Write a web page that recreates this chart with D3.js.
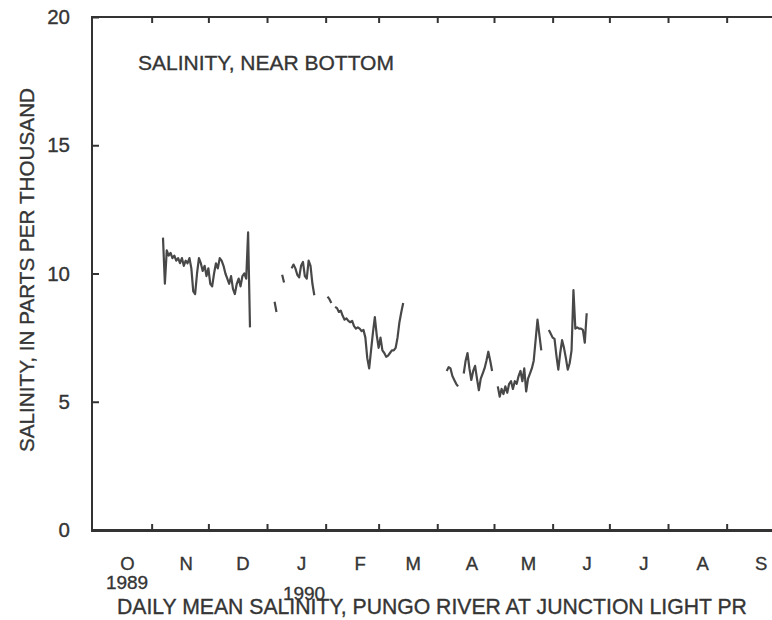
<!DOCTYPE html>
<html><head><meta charset="utf-8">
<script src="https://cdn.jsdelivr.net/npm/d3@7"></script>
<style>
body{margin:0;background:#fff}
svg{display:block}
text{font-family:"Liberation Sans",Arial,Helvetica,sans-serif;fill:#353535;stroke:#353535;stroke-width:0.35px}
</style>
</head><body>
<svg id="chart" width="772" height="620"></svg>
<script>
// ---- data ----
const monthLabels = ["O","N","D","J","F","M","A","M","J","J","A","S"];
const yTickValues = [0, 5, 10, 15, 20];
const yearLabels = ["1989", "1990"];
const yearMonthIndex = [0, 3];

// daily mean salinity (ppt), consecutive days from each start date; null = missing
const seg1Start = "1989-11-07";
const seg1Values = [11.4, 9.6, 10.9, 10.7, 10.8, 10.6, 10.7, 10.5, 10.6, 10.4, 10.6, 10.3, 10.5, 10.4, 10.6, 10.2,
  9.3, 9.2, 10.0, 10.6, 10.4, 10.1, 10.3, 9.9, 10.2, 9.6, 9.5, 10.0, 10.4, 10.2, 10.6, 10.5, 10.3, 10.0, 9.8, 9.6,
  9.9, 9.4, 9.2, 9.6, 9.8, 9.5, 9.9, 10.0, 9.8, 11.6, 7.9];

const seg2Start = "1990-01-05";
const seg2Values = [8.9, 8.5, null, null, 9.95, 9.65, null, null, null, 10.2, 10.35, 10.2, 9.95, 9.85, 10.3,
  10.45, 9.9, 9.8, 10.5, 10.3, 9.6, 9.15];

const seg3Start = "1990-02-02";
const seg3Values = [9.1, 9.0, 8.85, null, 8.7, 8.65, 8.5, 8.55, 8.35, 8.2, 8.25, 8.15, 8.1, 8.15, 7.95, 7.85,
  7.9, 7.85, 7.75, 7.8, 7.5, 6.7, 6.3, 7.0, 7.7, 8.3, 7.6, 7.1, 7.5, 7.0, 6.9, 6.75, 6.8, 6.9, 7.0, 7.0, 7.1,
  7.5, 8.1, 8.5, 8.85];

const seg4Start = "1990-04-06";
const seg4Values = [6.2, 6.35, 6.3, 6.0, 5.85, 5.7, 5.6, null, null, 6.1, 6.6, 6.9, 6.3, 5.85, 6.2, 6.4, 5.9,
  5.45, 5.9, 6.1, 6.3, 6.6, 6.95, 6.6, 6.2, null, null, 5.6, 5.2, 5.5, 5.3, 5.6, 5.35, 5.7, 5.8, 5.5, 5.8,
  5.7, 6.0, 6.2, 5.8, 6.3, 5.4, 5.9, 6.1, 6.3, 6.6, 7.4, 8.2, 7.6, 7.0, null, null, null, 7.8, 7.65, 7.5,
  7.45, 6.8, 6.25, 6.9, 7.4, 7.1, 6.7, 6.25, 6.5, 7.0, 9.35, 7.85, 7.9, 7.85, 7.85, 7.8, 7.3, 8.45];

// ---- build ----
const parse = d3.timeParse("%Y-%m-%d");
function series(start, vals) {
  const s = parse(start);
  return vals.map((v, i) => ({date: d3.timeDay.offset(s, i), v: v}));
}
const segments = [
  series(seg1Start, seg1Values),
  series(seg2Start, seg2Values),
  series(seg3Start, seg3Values),
  series(seg4Start, seg4Values)
];

const svg = d3.select("#chart");
const x0 = parse("1989-10-01"), x1 = parse("1990-10-01");
const x = d3.scaleTime().domain([x0, x1]).range([93, 783.4]);
const y = d3.scaleLinear().domain([0, 20]).range([530, 17]);

const monthStarts = d3.timeMonth.range(parse("1989-11-01"), parse("1990-09-02"));
const monthMids = d3.timeMonth.range(x0, x1).map(d => d3.timeDay.offset(d, 18));

// frame
const left = 92, right = 800;
svg.append("line").attr("x1", left).attr("x2", right).attr("y1", y(20)).attr("y2", y(20))
  .attr("stroke", "#333").attr("stroke-width", 2);
svg.append("line").attr("x1", left).attr("x2", right).attr("y1", y(0) + 0.5).attr("y2", y(0) + 0.5)
  .attr("stroke", "#333").attr("stroke-width", 3);
svg.append("line").attr("x1", left).attr("x2", left).attr("y1", y(20) - 1).attr("y2", y(0) + 2)
  .attr("stroke", "#333").attr("stroke-width", 2);

// month boundary ticks (top & bottom, pointing inward)
const topAxis = svg.append("g").attr("transform", `translate(0,${y(20)})`)
  .call(d3.axisTop(x).tickValues(monthStarts).tickSize(-6).tickFormat(""));
const botAxis = svg.append("g").attr("transform", `translate(0,${y(0)})`)
  .call(d3.axisBottom(x).tickValues(monthStarts).tickSize(-6).tickFormat(""));
[topAxis, botAxis].forEach(g => {
  g.select(".domain").remove();
  g.selectAll("line").attr("stroke", "#333").attr("stroke-width", 2);
});

// month letters
const monthAxis = svg.append("g").attr("transform", `translate(0,${y(0)})`)
  .call(d3.axisBottom(x).tickValues(monthMids).tickSize(0).tickPadding(27)
    .tickFormat((d, i) => monthLabels[i]));
monthAxis.select(".domain").remove();
monthAxis.selectAll("text").attr("font-size", 18.5).attr("fill", "#353535")
  .style("font-family", "'Liberation Sans', Arial, sans-serif");

// y axis
const yAxis = svg.append("g").attr("transform", `translate(${left},0)`)
  .call(d3.axisLeft(y).tickValues(yTickValues).tickSize(-7).tickPadding(22));
yAxis.select(".domain").remove();
yAxis.selectAll("line").attr("stroke", "#333").attr("stroke-width", 2);
yAxis.selectAll("text").attr("font-size", 20.5).attr("fill", "#353535")
  .style("font-family", "'Liberation Sans', Arial, sans-serif");

// year labels
svg.append("text").attr("x", x(monthMids[yearMonthIndex[0]])).attr("y", 589)
  .attr("text-anchor", "middle").attr("font-size", 19).text(yearLabels[0]);
svg.append("text").attr("x", x(monthMids[yearMonthIndex[1]]) + 3).attr("y", 600)
  .attr("text-anchor", "middle").attr("font-size", 19).text(yearLabels[1]);

// titles
svg.append("text").attr("x", 138).attr("y", 70).attr("font-size", 21)
  .text("SALINITY, NEAR BOTTOM");
svg.append("text").attr("transform", "translate(34,270) rotate(-90)")
  .attr("text-anchor", "middle").attr("font-size", 20.7)
  .text("SALINITY, IN PARTS PER THOUSAND");
svg.append("text").attr("x", 117).attr("y", 614).attr("font-size", 21.2)
  .text("DAILY MEAN SALINITY, PUNGO RIVER AT JUNCTION LIGHT PR");

// data lines
const line = d3.line().defined(d => d.v != null).x(d => x(d.date)).y(d => y(d.v));
svg.append("g").selectAll("path").data(segments).join("path")
  .attr("d", line).attr("fill", "none").attr("stroke", "#484848")
  .attr("stroke-width", 2.2).attr("stroke-linejoin", "round");
</script>
</body></html>
